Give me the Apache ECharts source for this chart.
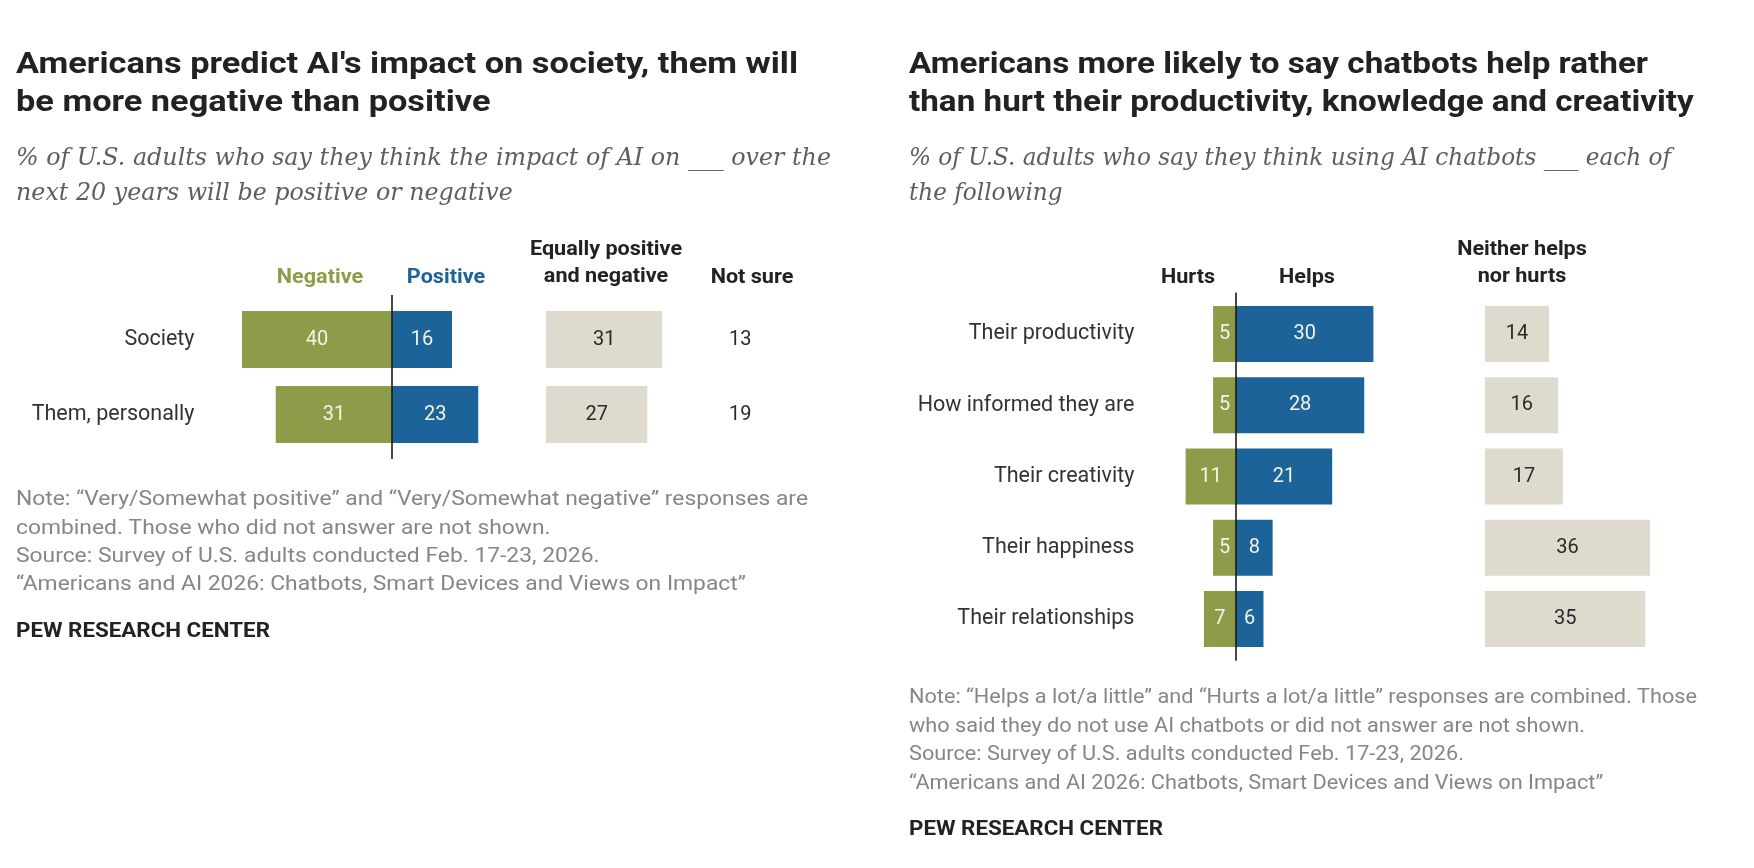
<!DOCTYPE html>
<html><head><meta charset="utf-8">
<script src="https://cdn.jsdelivr.net/npm/echarts@6/dist/echarts.min.js"></script>
<style>html,body{margin:0;padding:0;background:#fff}#c{width:1754px;height:868px}</style>
</head><body><div id="c"></div>
<script>
// ---- data ----
const societyCats = ['Society', 'Them, personally'];
const societyNegative = [40, 31];
const societyPositive = [16, 23];
const societyEqually = [31, 27];
const societyNotSure = [13, 19];

const chatbotCats = ['Their productivity', 'How informed they are', 'Their creativity', 'Their happiness', 'Their relationships'];
const chatbotHurts = [5, 5, 11, 5, 7];
const chatbotHelps = [30, 28, 21, 8, 6];
const chatbotNeither = [14, 16, 17, 36, 35];

// ---- style ----
const GREEN = '#8d9c48', BLUE = '#1b6399', BEIGE = '#dedace';
const SANS = 'Roboto, "Liberation Sans", sans-serif';
const SERIF = '"DejaVu Serif", "Liberation Serif", serif';

const chart = echarts.init(document.getElementById('c'), null, { renderer: 'canvas' });
const mctx = document.createElement('canvas').getContext('2d');
function measure(t, font) { mctx.font = font; return mctx.measureText(t).width; }

function block(lines, x, base0, lh, size, weight, fstyle, family, color, targetW) {
  const font = `${fstyle} ${weight} ${size}px ${family}`;
  const sx = targetW ? targetW / measure(lines[0], font) : 1;
  return lines.map((t, i) => ({
    type: 'text', x: x, y: base0 + i * lh - 0.34 * size, scaleX: sx, silent: true,
    style: { text: t, x: 0, y: 0, font: font, fill: color, align: 'left', verticalAlign: 'middle' }
  }));
}
function head(lines, cx, base0, color) {
  const size = 20;
  return lines.map((t, i) => ({
    type: 'text', x: cx, y: base0 + i * 27 - 0.34 * size, scaleX: 1.08, silent: true,
    style: { text: t, x: 0, y: 0, font: `bold ${size}px ${SANS}`, fill: color, align: 'center', verticalAlign: 'middle' }
  }));
}

const graphics = [].concat(
  block(["Americans predict AI's impact on society, them will", 'be more negative than positive'], 16, 76, 38, 30, 'bold', 'normal', SANS, '#222', 782),
  block(['Americans more likely to say chatbots help rather', 'than hurt their productivity, knowledge and creativity'], 909, 76, 38, 30, 'bold', 'normal', SANS, '#222', 739),
  block(['% of U.S. adults who say they think the impact of AI on ___ over the', 'next 20 years will be positive or negative'], 16, 167, 35, 24, 'normal', 'italic', SERIF, '#5e5e5e', 815),
  block(['% of U.S. adults who say they think using AI chatbots ___ each of', 'the following'], 909, 167, 35, 24, 'normal', 'italic', SERIF, '#5e5e5e', 762),
  head(['Negative'], 320, 285, GREEN),
  head(['Positive'], 446, 285, BLUE),
  head(['Equally positive', 'and negative'], 606, 257, '#222'),
  head(['Not sure'], 752, 285, '#222'),
  head(['Hurts'], 1188, 285, '#222'),
  head(['Helps'], 1307, 285, '#222'),
  head(['Neither helps', 'nor hurts'], 1522, 257, '#222'),
  block(['Note: \u201cVery/Somewhat positive\u201d and \u201cVery/Somewhat negative\u201d responses are',
         'combined. Those who did not answer are not shown.',
         'Source: Survey of U.S. adults conducted Feb. 17-23, 2026.',
         '\u201cAmericans and AI 2026: Chatbots, Smart Devices and Views on Impact\u201d'], 16, 507, 28.4, 20, 'normal', 'normal', SANS, '#868686', 792),
  block(['PEW RESEARCH CENTER'], 16, 639, 0, 20, 'bold', 'normal', SANS, '#222', 254),
  block(['Note: \u201cHelps a lot/a little\u201d and \u201cHurts a lot/a little\u201d responses are combined. Those',
         'who said they do not use AI chatbots or did not answer are not shown.',
         'Source: Survey of U.S. adults conducted Feb. 17-23, 2026.',
         '\u201cAmericans and AI 2026: Chatbots, Smart Devices and Views on Impact\u201d'], 909, 705, 28.6, 20, 'normal', 'normal', SANS, '#868686', 788),
  block(['PEW RESEARCH CENTER'], 909, 837, 0, 20, 'bold', 'normal', SANS, '#222', 254)
);

// geometry
const ZL = 392, SL = 3.75, L_MIN = -50, L_MAX = 45;
const ZR = 1236, SR = 4.58, R_MIN = -20, R_MAX = 35;
const lTop = 302, lH = 150, rTop = 298.4, rH = 356.25;

const lightLbl = { show: true, position: 'inside', color: '#f3f3e6', fontSize: 20, fontFamily: SANS, formatter: p => Math.abs(p.value) };
const darkLbl = { show: true, position: 'inside', color: '#2a2a2a', fontSize: 20, fontFamily: SANS };

function catAxis(grid, data, showLabels) {
  return { type: 'category', gridIndex: grid, data: data, inverse: true,
    axisLine: { show: false }, axisTick: { show: false }, splitLine: { show: false },
    axisLabel: { show: showLabels, fontSize: 21.5, color: '#333', fontFamily: SANS, margin: 10 } };
}
function valAxis(grid, min, max) {
  return { type: 'value', gridIndex: grid, min: min, max: max, show: false, splitLine: { show: false } };
}

const option = {
  backgroundColor: '#fff',
  animation: false,
  graphic: graphics,
  grid: [
    { left: ZL + L_MIN * SL, top: lTop, width: (L_MAX - L_MIN) * SL, height: lH },
    { left: 546, top: lTop, width: 40 * SL, height: lH },
    { left: 729, top: lTop, width: 100, height: lH },
    { left: ZR + R_MIN * SR, top: rTop, width: (R_MAX - R_MIN) * SR, height: rH },
    { left: 1485, top: rTop, width: 40 * SR, height: rH }
  ],
  xAxis: [valAxis(0, L_MIN, L_MAX), valAxis(1, 0, 40), valAxis(2, 0, 100), valAxis(3, R_MIN, R_MAX), valAxis(4, 0, 40)],
  yAxis: [catAxis(0, societyCats, true), catAxis(1, societyCats, false), catAxis(2, societyCats, false),
          catAxis(3, chatbotCats, true), catAxis(4, chatbotCats, false)],
  series: [
    { name: 'Negative', type: 'bar', xAxisIndex: 0, yAxisIndex: 0, stack: 'l', barWidth: 57,
      data: societyNegative.map(v => -v), itemStyle: { color: GREEN }, label: lightLbl },
    { name: 'Positive', type: 'bar', xAxisIndex: 0, yAxisIndex: 0, stack: 'l', barWidth: 57,
      data: societyPositive, itemStyle: { color: BLUE }, label: lightLbl },
    { name: 'Equally positive and negative', type: 'bar', xAxisIndex: 1, yAxisIndex: 1, barWidth: 57,
      data: societyEqually, itemStyle: { color: BEIGE }, label: darkLbl },
    { name: 'Not sure', type: 'bar', xAxisIndex: 2, yAxisIndex: 2, barWidth: 57,
      data: societyNotSure, itemStyle: { color: 'rgba(0,0,0,0)' },
      label: { show: true, position: 'insideLeft', distance: 0, color: '#2a2a2a', fontSize: 20, fontFamily: SANS } },
    { name: 'Hurts', type: 'bar', xAxisIndex: 3, yAxisIndex: 3, stack: 'r', barWidth: 56,
      data: chatbotHurts.map(v => -v), itemStyle: { color: GREEN }, label: lightLbl },
    { name: 'Helps', type: 'bar', xAxisIndex: 3, yAxisIndex: 3, stack: 'r', barWidth: 56,
      data: chatbotHelps, itemStyle: { color: BLUE }, label: lightLbl },
    { name: 'Neither helps nor hurts', type: 'bar', xAxisIndex: 4, yAxisIndex: 4, barWidth: 56,
      data: chatbotNeither, itemStyle: { color: BEIGE }, label: darkLbl }
  ]
};
chart.setOption(option);

// zero reference lines, positioned from the value axes (x = 0), overhanging the bars slightly
const zl = chart.convertToPixel({ xAxisIndex: 0 }, 0);
const zr = chart.convertToPixel({ xAxisIndex: 3 }, 0);
const zeroLines = [
  { type: 'line', silent: true, z: 10, shape: { x1: zl, y1: lTop - 7, x2: zl, y2: lTop + lH + 7 }, style: { stroke: '#1a1a1a', lineWidth: 1.6 } },
  { type: 'line', silent: true, z: 10, shape: { x1: zr, y1: rTop - 6, x2: zr, y2: rTop + rH + 6 }, style: { stroke: '#1a1a1a', lineWidth: 1.6 } }
];
chart.setOption({ graphic: graphics.concat(zeroLines) });
</script>
</body></html>
